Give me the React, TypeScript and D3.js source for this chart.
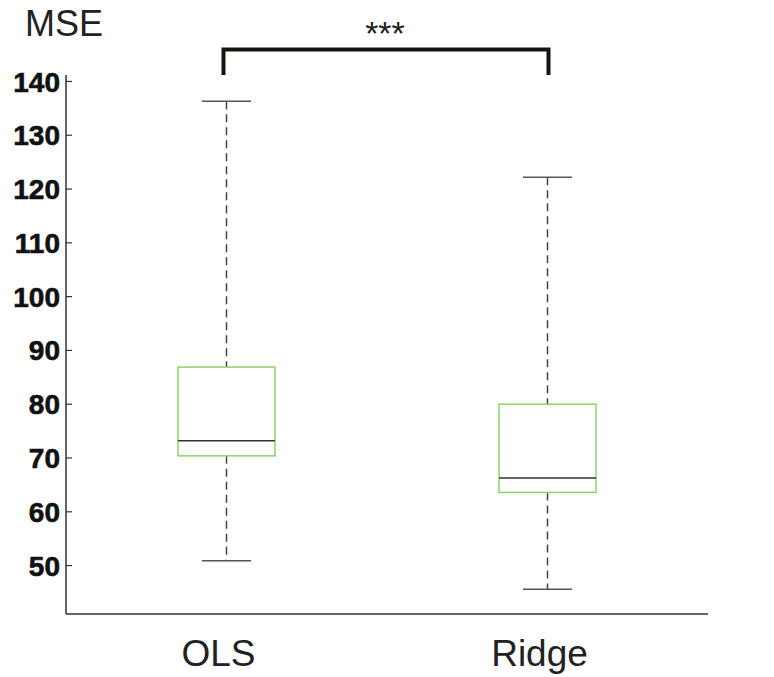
import React from 'react';
import * as d3 from 'd3';

// box plot values
const groups = ['OLS', 'Ridge'];
const whiskerLow = [50.9, 45.6];
const q1 = [70.4, 63.6];
const median = [73.2, 66.3];
const q3 = [86.9, 80.0];
const whiskerHigh = [136.3, 122.2];
const yTicks = [50, 60, 70, 80, 90, 100, 110, 120, 130, 140];
const yLabel = 'MSE';
const sigLabel = '***';

const W = 774;
const H = 677;

const App = () => {
  const x = d3.scalePoint<string>().domain(groups).range([66, 708]).padding(0.5);
  const y = d3.scaleLinear().domain([41, 141.2]).range([614, 75]);

  const boxW = 97;
  const capW = 49;
  const axisColor = '#333';
  const green = '#8fd46a';
  const font = '"Liberation Sans", Arial, sans-serif';

  const xL = x(groups[0])!;
  const xR = x(groups[1])!;

  return (
    <div style={{ position: 'absolute', left: 0, top: 0 }}>
      <svg width={W} height={H} style={{ display: 'block', background: '#fff' }}>
        {/* y label */}
        <text x={25} y={36} fontFamily={font} fontSize={36} fill="#222">
          {yLabel}
        </text>

        {/* axes */}
        <line x1={66} x2={66} y1={y.range()[1]} y2={y.range()[0]} stroke={axisColor} strokeWidth={1.5} />
        <line x1={66} x2={708} y1={y.range()[0]} y2={y.range()[0]} stroke={axisColor} strokeWidth={1.5} />
        {yTicks.map(t => (
          <g key={t}>
            <line x1={66} x2={72} y1={y(t)} y2={y(t)} stroke={axisColor} strokeWidth={1.2} />
            <text x={60} y={y(t)} dy="0.36em" textAnchor="end" fontFamily={font} fontWeight="bold" fontSize={28} fill="#111" stroke="#111" strokeWidth={0.6}>
              {t}
            </text>
          </g>
        ))}
        {groups.map(g => (
          <text key={g} x={x(g)! - 8} y={666} textAnchor="middle" fontFamily={font} fontSize={37} fill="#222">
            {g}
          </text>
        ))}

        {/* boxes */}
        {groups.map((g, i) => {
          const cx = x(g)!;
          return (
            <g key={g}>
              <line x1={cx} x2={cx} y1={y(whiskerHigh[i])} y2={y(q3[i])} stroke="#444" strokeWidth={1.5} strokeDasharray="8,5" />
              <line x1={cx} x2={cx} y1={y(q1[i])} y2={y(whiskerLow[i])} stroke="#444" strokeWidth={1.5} strokeDasharray="8,5" />
              <line x1={cx - capW / 2} x2={cx + capW / 2} y1={y(whiskerHigh[i])} y2={y(whiskerHigh[i])} stroke="#555" strokeWidth={1.5} />
              <line x1={cx - capW / 2} x2={cx + capW / 2} y1={y(whiskerLow[i])} y2={y(whiskerLow[i])} stroke="#555" strokeWidth={1.5} />
              <rect x={cx - boxW / 2} y={y(q3[i])} width={boxW} height={y(q1[i]) - y(q3[i])} fill="none" stroke={green} strokeWidth={1.5} />
              <line x1={cx - boxW / 2} x2={cx + boxW / 2} y1={y(median[i])} y2={y(median[i])} stroke="#333" strokeWidth={1.5} />
            </g>
          );
        })}

        {/* significance bracket */}
        <path
          d={`M${xL - 3},75 V49.5 H${xR + 1} V75`}
          fill="none"
          stroke="#1a1410"
          strokeWidth={4}
        />
        <text x={(xL + xR) / 2 - 2} y={45} textAnchor="middle" fontFamily={font} fontSize={34} fill="#222">
          {sigLabel}
        </text>
      </svg>
    </div>
  );
};

export default App;
